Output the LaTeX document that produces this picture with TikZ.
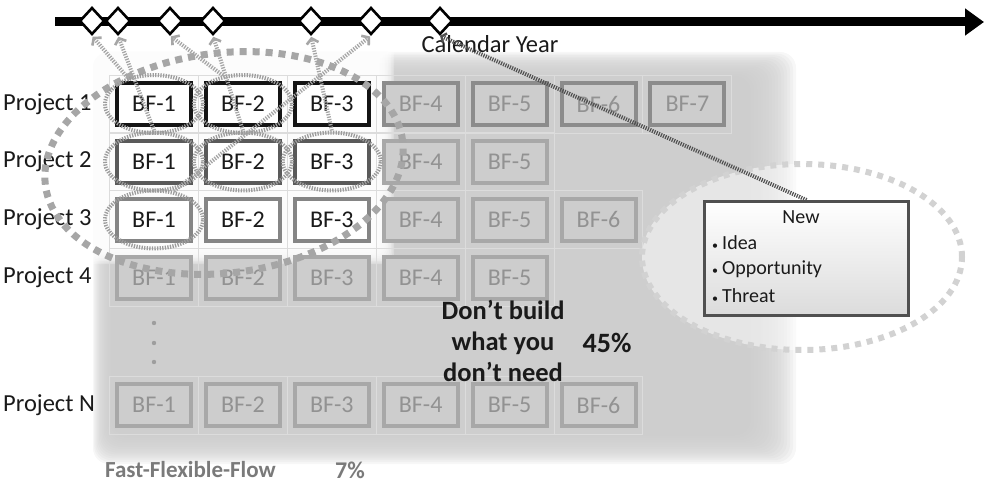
\documentclass[tikz,border=0pt]{standalone}
\usepackage{fontspec}
\setmainfont{Carlito}
\usetikzlibrary{arrows.meta,shapes.geometric,shadows}

\definecolor{panelgray}{HTML}{CBCBCB}
\definecolor{gridline}{HTML}{DCDCDC}
\definecolor{ink}{HTML}{1A1A1A}
\definecolor{coldfill}{HTML}{CDCDCD}
\definecolor{coldedge}{HTML}{A8A8A8}
\definecolor{coldedgedark}{HTML}{8C8C8C}
\definecolor{coldtext}{HTML}{929292}
\definecolor{warmdark}{HTML}{5A5A5A}
\definecolor{warmmid}{HTML}{858585}
\definecolor{ringgray}{HTML}{9C9C9C}
\definecolor{bigring}{HTML}{A6A6A6}
\definecolor{newring}{HTML}{D2D2D2}
\definecolor{newedge}{HTML}{505050}
\definecolor{fffgray}{HTML}{7A7A7A}

\tikzset{
  txt/.style={font=\fontsize{24.5}{28}\selectfont, text=ink, inner sep=0pt},
  bfbox/.style={rectangle, minimum width=74pt, minimum height=42pt, inner sep=0pt,
    line width=4pt, font=\fontsize{24}{28}\selectfont,
    drop shadow={shadow xshift=1.2pt, shadow yshift=-1.6pt, opacity=0.28}},
  hotbox/.style={bfbox, draw=black!92, fill=white, text=ink, line width=4.6pt},
  warmbox/.style={bfbox, draw=#1, fill=white, text=ink},
  coldbox/.style={bfbox, draw=coldedge, fill=coldfill, text=coldtext},
  coldtopbox/.style={coldbox, draw=coldedgedark},
  ring/.style={ellipse, draw=ringgray, line width=4pt, dash pattern=on 1.3pt off 1.3pt,
    minimum width=98pt, minimum height=58pt, inner sep=0pt},
  link/.style={draw=ringgray!90, line width=4pt, dash pattern=on 1.3pt off 1.3pt,
    -{Straight Barb[length=5pt, width=12pt, line width=2.6pt]}, shorten >=1pt},
  release/.style={diamond, draw=black, line width=2.6pt, fill=white,
    minimum width=25pt, minimum height=27pt, inner sep=0pt},
  vdot/.style={circle, fill=black!38, minimum size=4.4pt, inner sep=0pt},
  boldtxt/.style={font=\bfseries\fontsize{26.5}{31}\selectfont, text=ink, inner sep=0pt},
  bignum/.style={font=\bfseries\fontsize{28}{31}\selectfont, text=ink, inner sep=0pt},
  itemtxt/.style={font=\fontsize{20}{24}\selectfont, text=ink, inner sep=0pt, anchor=west},
}

\begin{document}
\begin{tikzpicture}[x=1pt, y=-1pt]
\useasboundingbox (0,0) rectangle (984,487);

% soft grey panel behind the project table
\foreach \k in {0,...,15}
  \fill[panelgray, opacity=0.16, rounded corners=16pt]
    ({93+1.2*\k},{52+1.6*\k}) rectangle ({796-3.0*\k},{464-1.9*\k});
% lighter area behind the first three deliveries of the first three projects
\foreach \k in {0,...,11}
  \fill[white, opacity=0.26, rounded corners=10pt]
    ({84+1*\k},{36+1*\k}) rectangle ({394-1.5*\k},{264-1.5*\k});

% table cells
\foreach \y/\n in {104/7, 161.5/5, 219.5/6, 277.5/5, 405/6}
  \foreach \c in {1,...,\n}
    \draw[gridline, line width=1pt]
      ({154+(\c-1)*88.9-44.45},{\y-29}) rectangle ({154+(\c-1)*88.9+44.45},{\y+29});

% project 1
\foreach \c in {1,2,3}
  \node[hotbox] (r1c\c) at ({154+(\c-1)*88.9},104) {BF-\c};
\foreach \c in {4,...,7}
  \node[coldtopbox] (r1c\c) at ({154+(\c-1)*88.9},104) {BF-\c};
% project 2
\foreach \c in {1,2,3}
  \node[warmbox=warmdark] (r2c\c) at ({154+(\c-1)*88.9},161.5) {BF-\c};
\foreach \c in {4,5}
  \node[coldbox] (r2c\c) at ({154+(\c-1)*88.9},161.5) {BF-\c};
% project 3
\foreach \c in {1,2,3}
  \node[warmbox=warmmid] (r3c\c) at ({154+(\c-1)*88.9},219.5) {BF-\c};
\foreach \c in {4,5,6}
  \node[coldbox] (r3c\c) at ({154+(\c-1)*88.9},219.5) {BF-\c};
% project 4
\foreach \c in {1,...,5}
  \node[coldbox] (r4c\c) at ({154+(\c-1)*88.9},277.5) {BF-\c};
% project N
\foreach \c in {1,...,6}
  \node[coldbox] (rNc\c) at ({154+(\c-1)*88.9},405) {BF-\c};

% row labels
\node[txt, anchor=west] (lab1) at (3,104) {Project 1};
\node[txt, anchor=west] (lab2) at (3,161.5) {Project 2};
\node[txt, anchor=west] (lab3) at (3,219.5) {Project 3};
\node[txt, anchor=west] (lab4) at (3,277.5) {Project 4};
\node[txt, anchor=west] (labN) at (3,405) {Project N};

% vertical ellipsis
\node[vdot] (v1) at (154,323) {};
\node[vdot] (v2) at (154,343) {};
\node[vdot] (v3) at (154,362) {};

% large dashed ring round the active work
\node[ellipse, draw=bigring, line width=7pt, dash pattern=on 7pt off 6pt,
      minimum width=360pt, minimum height=220pt, inner sep=0pt, rotate=7]
      (active) at (224,163) {};

% small rings round the delivered features
\node[ring] (e11) at (154,104) {};
\node[ring] (e12) at (242.9,104) {};
\node[ring] (e21) at (154,161.5) {};
\node[ring] (e22) at (242.9,161.5) {};
\node[ring] (e23) at (331.8,161.5) {};
\node[ring] (e31) at (154,219.5) {};

% "New" request
\node[ellipse, draw=newring, line width=6pt, dash pattern=on 6pt off 6pt,
      fill=white, fill opacity=0.5, minimum width=320pt, minimum height=186pt,
      inner sep=0pt] (newring) at (802,257) {};
\node[rectangle, draw=newedge, line width=3pt, top color=white, bottom color=black!14,
      minimum width=204pt, minimum height=114pt, inner sep=0pt]
      (newbox) at (806.5,258.5) {};
\node[font=\fontsize{20}{24}\selectfont, text=ink, inner sep=0pt] (newtitle) at (801,217) {New};
\node[itemtxt] (it1) at (712,243) {\makebox[10pt][l]{\fontsize{12}{15}\selectfont•}Idea};
\node[itemtxt] (it2) at (712,269) {\makebox[10pt][l]{\fontsize{12}{15}\selectfont•}Opportunity};
\node[itemtxt] (it3) at (712,296) {\makebox[10pt][l]{\fontsize{12}{15}\selectfont•}Threat};

% timeline
\coordinate (t0) at (55,22);
\coordinate (t1) at (984,22);
\draw[line width=9pt, -{Triangle[length=19pt, width=26pt]}] (t0) -- (t1);
\node[txt] (cal) at (490,44) {Calendar Year};

% release points
\node[release] (d1) at (92,21) {};
\node[release] (d2) at (118,21) {};
\node[release] (d3) at (170,21) {};
\node[release] (d4) at (213,21) {};
\node[release] (d5) at (311,21) {};
\node[release] (d6) at (371,21) {};
\node[release] (d7) at (440,21) {};

% features released at each point
\draw[link] (e11.135) -- (d1.south);
\draw[link] (e21.north) -- (d2.south);
\draw[link] (e12.125) -- (d3.south);
\draw[link] (e22.north) -- (d4.south);
\draw[link] (e23.north) -- (d5.south);
\draw[link] (e31.55) -- (d6.south);
\draw[draw=newedge, line width=4pt, dash pattern=on 1.2pt off 1.2pt,
      -{Straight Barb[length=4pt, width=10pt, line width=2.4pt]}]
      (newbox.north) -- (d7.south);

% captions
\node[boldtxt, align=center] (dont) at (503,341) {Don’t build\\what you\\don’t need};
\node[bignum] (pct45) at (607,343) {45\%};
\node[boldtxt, text=fffgray, font=\bfseries\fontsize{23}{27}\selectfont, anchor=west]
      (fff) at (105,470) {Fast-Flexible-Flow};
\node[boldtxt, text=fffgray, font=\bfseries\fontsize{24}{27}\selectfont] (pct7) at (350,470) {7\%};
\end{tikzpicture}
\end{document}
